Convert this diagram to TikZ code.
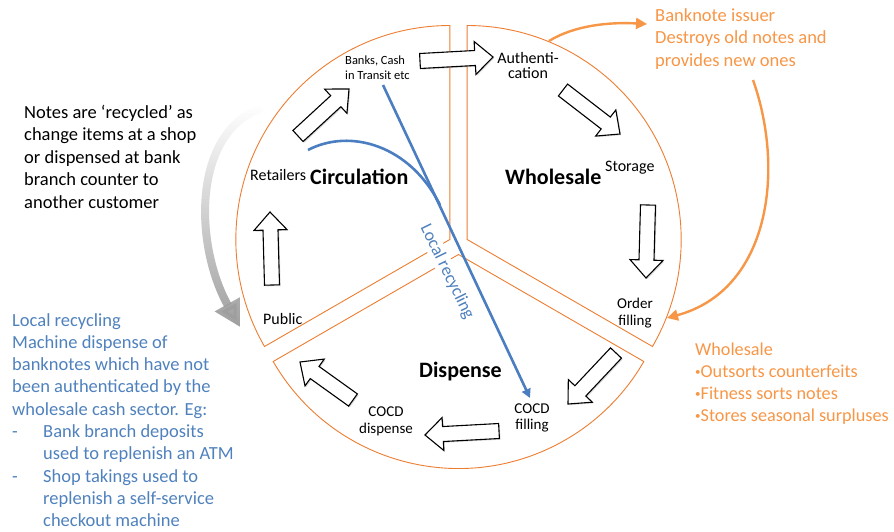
\documentclass[tikz,border=0pt]{standalone}
\usepackage{fontspec}
\setmainfont{Carlito}
\usetikzlibrary{calc,arrows.meta,shadows,fadings}
\definecolor{orline}{RGB}{237,125,49}
\definecolor{ortext}{RGB}{247,150,70}
\definecolor{bltext}{RGB}{79,129,189}
\definecolor{blline}{RGB}{74,126,193}
\newcommand{\fsz}[2]{\fontsize{#1}{#2}\selectfont}
\newcommand{\sbul}{{\fontsize{11}{11}\selectfont\raisebox{2pt}{•}}}
\def\abw{7.5pt}
\def\ahw{16.5pt}
\def\ahl{18pt}
\newcommand{\blockarr}[1]{%
  \coordinate (#1m) at ($(#1h)!\ahl!(#1t)$);
  \draw[barrow] ($(#1t)!\abw!90:(#1h)$) -- ($(#1m)!\abw!-90:(#1t)$)
    -- ($(#1m)!\ahw!-90:(#1t)$) -- (#1h) -- ($(#1m)!\ahw!90:(#1t)$)
    -- ($(#1m)!\abw!90:(#1t)$) -- ($(#1t)!\abw!-90:(#1h)$) -- cycle;}
\begin{document}
\begin{tikzpicture}[x=1pt,y=1pt,
  sector/.style={draw=orline,line width=0.9pt,line join=miter},
  barrow/.style={draw=black,fill=white,line width=1.1pt,line join=miter,
    drop shadow={shadow xshift=1.2pt,shadow yshift=-1.2pt,opacity=0.3,fill=black!50}},
  oarrow/.style={draw=ortext,line width=2.4pt,-{Triangle[length=11pt,width=11pt]}},
  bline/.style={draw=blline,line width=2.6pt},
  lbl/.style={inner sep=0pt,text=black},
  txt/.style={inner sep=0pt,align=left}]
\useasboundingbox (0,0) rectangle (894,-531);
% sectors
\coordinate (C) at (458.5,-244.5);
\coordinate (pc) at ($(C)+(150:10pt)$);
\coordinate (pw) at ($(C)+(30:10pt)$);
\coordinate (pd) at ($(C)+(270:10pt)$);
\draw[sector] (pc) -- ++(90:214pt) arc[start angle=90,end angle=210,radius=214pt] -- cycle;
\draw[sector] (pw) -- ++(-30:214pt) arc[start angle=-30,end angle=90,radius=214pt] -- cycle;
\draw[sector] (pd) -- ++(210:214pt) arc[start angle=210,end angle=330,radius=214pt] -- cycle;
% gray curved arrow
\coordinate (g1) at (262,-108);
\coordinate (g2) at (240,-327);
\draw[draw=black!38,line width=8pt,path fading=north,-{Triangle[length=26pt,width=27pt]}]
  (g1) .. controls (192,-132) and (194,-245) .. (g2);
% orange arrows
\coordinate (o1s) at (549,-41);
\coordinate (o1e) at (647,-24);
\draw[oarrow] (o1s) .. controls (575,-25) and (610,-22) .. (o1e);
\coordinate (o2s) at (753,-80);
\coordinate (o2e) at (667,-318);
\draw[oarrow] (o2s) .. controls (785,-170) and (770,-290) .. (o2e);
% block arrows
\coordinate (a1t) at (420,-61);  \coordinate (a1h) at (493,-57);
\coordinate (a2t) at (298,-136); \coordinate (a2h) at (349,-89);
\coordinate (a3t) at (272,-285); \coordinate (a3h) at (270,-212);
\coordinate (a4t) at (563,-90);  \coordinate (a4h) at (620,-134);
\coordinate (a5t) at (648,-205); \coordinate (a5h) at (646,-278);
\coordinate (a6t) at (616,-353); \coordinate (a6h) at (568,-404);
\coordinate (a7t) at (499,-431); \coordinate (a7h) at (425,-435);
\coordinate (a8t) at (353,-400); \coordinate (a8h) at (300,-362);
\blockarr{a1}\blockarr{a2}\blockarr{a3}\blockarr{a4}
\blockarr{a5}\blockarr{a6}\blockarr{a7}\blockarr{a8}
% outside texts
\node[txt,anchor=north west,font=\fsz{18.5}{22.6}] (notes) at (24,-104.5)
  {Notes are ‘recycled’ as\\change items at a shop\\or dispensed at bank\\branch counter to\\another customer};
\node[txt,anchor=north west,text=bltext,font=\fsz{18.5}{22.3}] (lrtext) at (12,-313)
  {Local recycling\\Machine dispense of\\banknotes which have not\\been authenticated  by the\\wholesale  cash sector. Eg:\\
   \makebox[31pt][l]{-}Bank branch deposits\\\hspace*{31pt}used to replenish  an ATM\\
   \makebox[31pt][l]{-}Shop takings used to\\\hspace*{31pt}replenish a self-service\\\hspace*{31pt}checkout machine};
\node[txt,anchor=north west,text=ortext,font=\fsz{18.5}{22.5}] (issuer) at (655,-8)
  {Banknote issuer\\Destroys old notes and\\provides new ones};
\node[txt,anchor=north west,text=ortext,font=\fsz{18.2}{21.8}] (wstext) at (695,-343)
  {Wholesale\\\sbul Outsorts counterfeits\\\sbul Fitness sorts notes\\\sbul Stores seasonal surpluses};
% circle labels
\node[lbl,align=left,anchor=north west,font=\fsz{12.5}{15}] (banks) at (345,-56) {Banks, Cash\\in Transit etc};
\node[lbl,align=center,font=\fsz{16}{15}] (auth) at (528,-65) {Authenti-\\cation};
\node[lbl,anchor=base west,font=\fsz{16}{18}] (retail) at (250,-180) {Retailers};
\node[lbl,anchor=base west,font=\fsz{22}{26}\bfseries] (circ) at (310,-184) {Circulation};
\node[lbl,anchor=base west,font=\fsz{22}{26}\bfseries] (whole) at (505,-184) {Wholesale};
\node[lbl,anchor=base west,font=\fsz{16}{18}] (storage) at (605,-171.5) {Storage};
\node[lbl,align=center,font=\fsz{15}{17}] (order) at (635,-313) {Order\\filling};
\node[lbl,anchor=base west,font=\fsz{16}{18}] (public) at (263,-324) {Public};
\node[lbl,anchor=base west,font=\fsz{22}{26}\bfseries] (disp) at (419,-377) {Dispense};
\node[lbl,align=center,font=\fsz{15}{16}] (cocdf) at (532,-418) {COCD\\filling};
\node[lbl,align=center,font=\fsz{15}{17}] (cocdd) at (386,-421) {COCD\\dispense};
% local recycling
\node[inner sep=1.5pt,fill=white,text=bltext,rotate=-64,font=\fsz{17.5}{20}] (lrlab) at (447,-272) {Local recycling};
\coordinate (b1) at (383,-85);
\coordinate (b2) at (530,-398);
\coordinate (b3) at (308,-150);
\coordinate (b4) at (440,-205);
\draw[bline,-{Triangle[length=9pt,width=9pt]}] (b1) -- (b2);
\draw[bline] (b3) .. controls (350,-128) and (410,-145) .. (b4);
\end{tikzpicture}
\end{document}
